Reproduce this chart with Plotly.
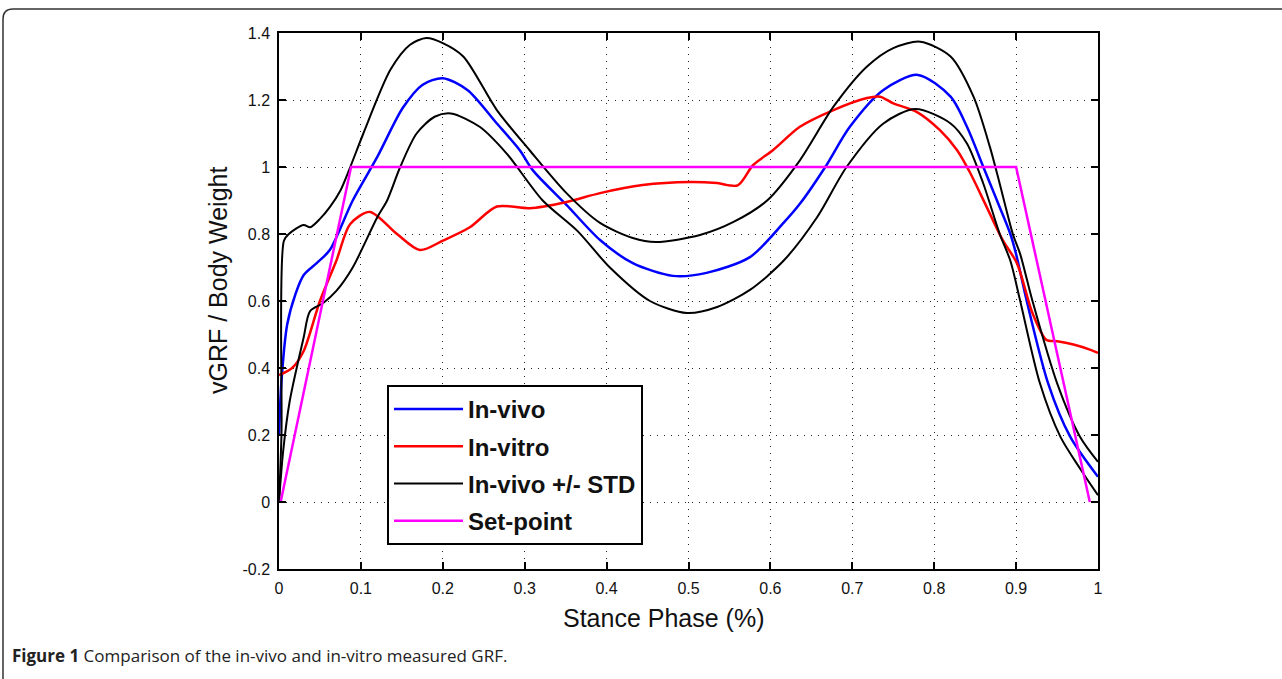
import plotly.graph_objects as go

# ---- data ----
x_tick_vals = [0, 0.1, 0.2, 0.3, 0.4, 0.5, 0.6, 0.7, 0.8, 0.9, 1.0]
x_tick_text = ["0", "0.1", "0.2", "0.3", "0.4", "0.5", "0.6", "0.7", "0.8", "0.9", "1"]
y_tick_vals = [-0.2, 0, 0.2, 0.4, 0.6, 0.8, 1.0, 1.2, 1.4]
y_tick_text = ["-0.2", "0", "0.2", "0.4", "0.6", "0.8", "1", "1.2", "1.4"]

invivo_x = [0, 0.003, 0.01, 0.02, 0.03, 0.046, 0.062, 0.09, 0.12, 0.151, 0.175, 0.2, 0.23,
            0.266, 0.294, 0.31, 0.351, 0.392, 0.432, 0.481, 0.522, 0.575, 0.616, 0.636, 0.667,
            0.697, 0.738, 0.78, 0.82, 0.84, 0.86, 0.88, 0.893, 0.90, 0.913, 0.939, 0.966, 1.0]
invivo_y = [0.2, 0.36, 0.53, 0.62, 0.677, 0.713, 0.752, 0.90, 1.03, 1.176, 1.245, 1.265, 1.23,
            1.13, 1.05, 0.99, 0.887, 0.782, 0.713, 0.675, 0.684, 0.731, 0.833, 0.89, 1.0,
            1.12, 1.23, 1.275, 1.21, 1.12, 1.0, 0.88, 0.80, 0.74, 0.60, 0.355, 0.195, 0.075]

invitro_x = [0, 0.016, 0.03, 0.05, 0.07, 0.087, 0.111, 0.144, 0.172, 0.2, 0.233, 0.266, 0.306,
             0.35, 0.392, 0.444, 0.502, 0.535, 0.56, 0.579, 0.603, 0.636, 0.677, 0.718, 0.734,
             0.75, 0.779, 0.807, 0.828, 0.844, 0.864, 0.884, 0.901, 0.92, 0.937, 0.95, 0.97,
             0.99, 1.0]
invitro_y = [0.379, 0.40, 0.45, 0.60, 0.72, 0.83, 0.866, 0.80, 0.752, 0.78, 0.82, 0.882, 0.877,
             0.895, 0.922, 0.946, 0.955, 0.952, 0.945, 1.006, 1.05, 1.12, 1.17, 1.206, 1.21,
             1.19, 1.164, 1.11, 1.05, 0.982, 0.881, 0.78, 0.713, 0.564, 0.484, 0.48, 0.47,
             0.455, 0.445]

std_hi_x = [0, 0.003, 0.006, 0.012, 0.03, 0.038, 0.05, 0.062, 0.075, 0.087, 0.103, 0.136, 0.16,
            0.18, 0.2, 0.225, 0.266, 0.306, 0.351, 0.392, 0.432, 0.46, 0.514, 0.555, 0.596,
            0.636, 0.677, 0.718, 0.75, 0.783, 0.82, 0.848, 0.868, 0.88, 0.896, 0.905, 0.92,
            0.95, 0.978, 1.0]
std_hi_y = [0.0, 0.2, 0.78, 0.80, 0.827, 0.82, 0.845, 0.88, 0.93, 1.0, 1.1, 1.29, 1.365,
            1.385, 1.37, 1.33, 1.17, 1.05, 0.922, 0.833, 0.788, 0.776, 0.797, 0.836, 0.90,
            1.02, 1.18, 1.30, 1.355, 1.374, 1.33, 1.21, 1.06, 0.95, 0.80, 0.74, 0.60,
            0.355, 0.195, 0.12]

std_lo_x = [0, 0.005, 0.013, 0.03, 0.038, 0.054, 0.07, 0.09, 0.12, 0.132, 0.148, 0.168, 0.19,
            0.21, 0.245, 0.278, 0.322, 0.364, 0.404, 0.453, 0.498, 0.535, 0.575, 0.616, 0.657,
            0.693, 0.738, 0.777, 0.82, 0.84, 0.86, 0.88, 0.893, 0.905, 0.929, 0.954, 0.978, 1.0]
std_lo_y = [0.0, 0.15, 0.3, 0.49, 0.57, 0.594, 0.63, 0.70, 0.85, 0.90, 1.0, 1.10, 1.15,
            1.16, 1.12, 1.04, 0.90, 0.81, 0.70, 0.60, 0.564, 0.582, 0.633, 0.72, 0.85,
            1.0, 1.13, 1.173, 1.13, 1.07, 0.95, 0.80, 0.72, 0.60, 0.355, 0.195, 0.10, 0.02]

setpoint_x = [0.002, 0.088, 0.9, 0.99]
setpoint_y = [0.0, 1.0, 1.0, 0.0]

# ---- figure ----
fig = go.Figure()
fig.add_trace(go.Scatter(x=invivo_x, y=invivo_y, mode="lines", name="<b>In-vivo</b>",
                         line=dict(color="#0000ff", width=2.5, shape="spline", smoothing=0.8)))
fig.add_trace(go.Scatter(x=invitro_x, y=invitro_y, mode="lines", name="<b>In-vitro</b>",
                         line=dict(color="#ff0000", width=2.5, shape="spline", smoothing=0.8)))
fig.add_trace(go.Scatter(x=std_hi_x, y=std_hi_y, mode="lines", name="<b>In-vivo +/- STD</b>",
                         legendgroup="std",
                         line=dict(color="#000000", width=2, shape="spline", smoothing=0.8)))
fig.add_trace(go.Scatter(x=std_lo_x, y=std_lo_y, mode="lines", name="<b>In-vivo +/- STD</b>",
                         legendgroup="std", showlegend=False,
                         line=dict(color="#000000", width=2, shape="spline", smoothing=0.8)))
fig.add_trace(go.Scatter(x=setpoint_x, y=setpoint_y, mode="lines", name="<b>Set-point</b>",
                         line=dict(color="#ff00ff", width=2.5)))

axis_common = dict(
    showline=True, linecolor="black", linewidth=1.5, mirror="ticks",
    ticks="inside", ticklen=7, tickwidth=1.5, tickcolor="black",
    showgrid=True, gridcolor="#222222", gridwidth=1, griddash="1px,6px",
    zeroline=False,
    tickfont=dict(family="Liberation Sans, Arial", size=16, color="#111111"),
)

fig.update_xaxes(range=[0, 1], tickvals=x_tick_vals, ticktext=x_tick_text,
                 ticklabelstandoff=4, **axis_common)
fig.update_yaxes(range=[-0.2, 1.4], tickvals=y_tick_vals, ticktext=y_tick_text,
                 ticklabelstandoff=4, **axis_common)

# page layout (page body margin is removed below, so figure pixels = page pixels)
W, H = 1282, 679
PL, PR, PT, PB = 279, 1098, 33, 569          # plot area in pixels
L, T, R, B = PL, PT, W - PR, H - PB
pw, ph = PR - PL, PB - PT


def px_x(p):
    return (p - PL) / pw


def px_y(p):
    return (PB - p) / ph


annotations = [
    dict(text="Stance Phase (%)", x=px_x(664), y=px_y(618), xref="paper", yref="paper",
         showarrow=False, xanchor="center", yanchor="middle",
         font=dict(family="Liberation Sans, Arial", size=25, color="#111111")),
    dict(text="vGRF / Body Weight", x=px_x(218), y=px_y(281), xref="paper", yref="paper",
         showarrow=False, xanchor="center", yanchor="middle", textangle=-90,
         font=dict(family="Liberation Sans, Arial", size=25, color="#111111")),
    dict(text="<b>Figure 1</b> Comparison of the in-vivo and in-vitro measured GRF.",
         x=px_x(10), y=px_y(655), xref="paper", yref="paper",
         showarrow=False, xanchor="left", yanchor="middle",
         font=dict(family="Open Sans, Noto Sans", size=17, color="#222222")),
]

# outer rounded frame of the figure panel
rx, ry = 10 / pw, 10 / ph
fx0, fy1 = px_x(3), px_y(9)
fx1, fy0 = px_x(1300), px_y(700)
frame_path = (f"M {fx0},{fy0} L {fx0},{fy1 - ry} Q {fx0},{fy1} {fx0 + rx},{fy1} "
              f"L {fx1},{fy1}")
shapes = [dict(type="path", path=frame_path, xref="paper", yref="paper",
               line=dict(color="#333333", width=1.5))]

fig.update_layout(
    width=W, height=H,
    margin=dict(l=L, r=R, t=T, b=B, autoexpand=False),
    paper_bgcolor="white", plot_bgcolor="white",
    showlegend=True,
    legend=dict(x=px_x(387), y=px_y(385), xanchor="left", yanchor="top",
                bgcolor="white", bordercolor="black", borderwidth=2,
                font=dict(family="Liberation Sans, Arial", size=24, color="#111111"),
                itemwidth=69, tracegroupgap=3),
    annotations=annotations,
    shapes=shapes,
)

fig.write_html("out.html",
               config={"displayModeBar": False},
               post_script="document.body.style.margin='0px';"
                           "document.body.style.overflow='hidden';")
